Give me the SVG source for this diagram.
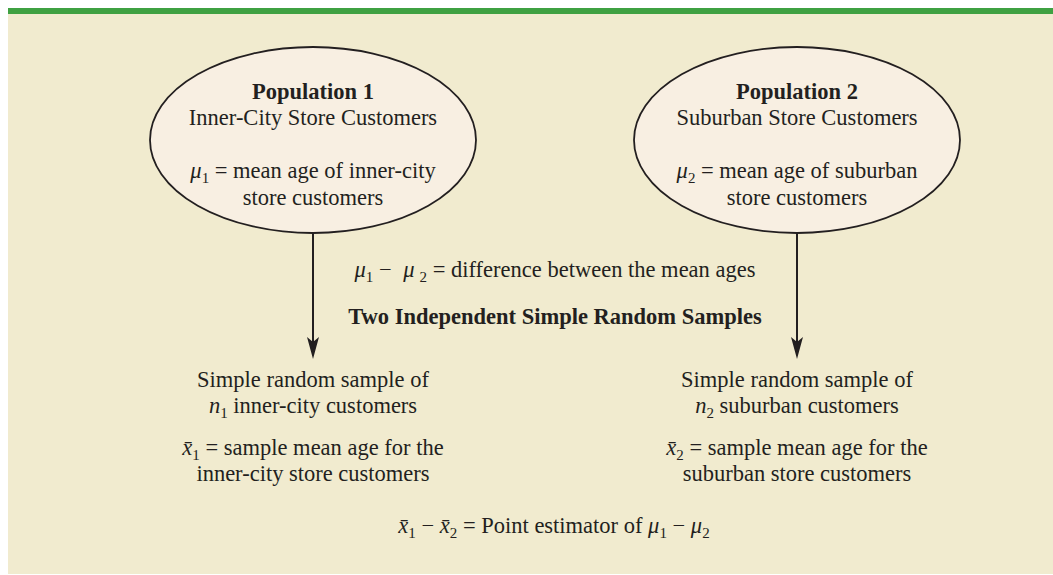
<svg xmlns="http://www.w3.org/2000/svg" width="1053" height="575" viewBox="0 0 1053 575">
<defs>
<style>
.t{font-family:"Liberation Serif","Times New Roman",serif;font-size:22.5px;fill:#231f20;text-anchor:middle}
.b{font-weight:bold}
.i{font-style:italic}
.node{fill:#f8efe2;stroke:#231f20;stroke-width:1.8}
.conn{stroke:#231f20;stroke-width:2;fill:none}
</style>
<marker id="ah" viewBox="0 0 22 12" refX="8" refY="6" markerWidth="22" markerHeight="12" markerUnits="userSpaceOnUse" orient="auto">
<path d="M0,0 L22,6 L0,12 L5,6 Z" fill="#231f20"/>
</marker>
</defs>
<rect x="0" y="0" width="1053" height="575" fill="#ffffff"/>
<rect x="8" y="8" width="1045" height="566" fill="#f1ebcf"/>
<rect x="8" y="8" width="1045" height="6" fill="#3fa142"/>

<g id="connectors">
<line class="conn" x1="313" y1="233" x2="313" y2="345" marker-end="url(#ah)"/>
<line class="conn" x1="797" y1="233" x2="797" y2="345" marker-end="url(#ah)"/>
</g>

<g id="population1">
<ellipse class="node" cx="313" cy="140" rx="163" ry="93"/>
<text class="t b" x="313" y="99">Population 1</text>
<text class="t" x="313" y="125">Inner-City Store Customers</text>
<text class="t" x="313" y="178"><tspan class="i">μ</tspan><tspan font-size="15" dy="5">1</tspan><tspan dy="-5"> = mean age of inner-city</tspan></text>
<text class="t" x="313" y="205">store customers</text>
</g>

<g id="population2">
<ellipse class="node" cx="797" cy="140" rx="163" ry="93"/>
<text class="t b" x="797" y="99">Population 2</text>
<text class="t" x="797" y="125">Suburban Store Customers</text>
<text class="t" x="797" y="178"><tspan class="i">μ</tspan><tspan font-size="15" dy="5">2</tspan><tspan dy="-5"> = mean age of suburban</tspan></text>
<text class="t" x="797" y="205">store customers</text>
</g>

<g id="middle">
<text class="t" x="555" y="277"><tspan class="i">μ</tspan><tspan font-size="15" dy="5">1</tspan><tspan dy="-5"> − </tspan><tspan class="i" dx="6">μ</tspan><tspan font-size="15" dy="5" dx="5">2</tspan><tspan dy="-5"> = difference between the mean ages</tspan></text>
<text class="t b" x="555" y="324">Two Independent Simple Random Samples</text>
</g>

<g id="sample1">
<text class="t" x="313" y="387">Simple random sample of</text>
<text class="t" x="313" y="413"><tspan class="i">n</tspan><tspan font-size="15" dy="5">1</tspan><tspan dy="-5"> inner-city customers</tspan></text>
<text class="t" x="313" y="455"><tspan class="i">x̄</tspan><tspan font-size="15" dy="5">1</tspan><tspan dy="-5"> = sample mean age for the</tspan></text>
<text class="t" x="313" y="481">inner-city store customers</text>
</g>

<g id="sample2">
<text class="t" x="797" y="387">Simple random sample of</text>
<text class="t" x="797" y="413"><tspan class="i">n</tspan><tspan font-size="15" dy="5">2</tspan><tspan dy="-5"> suburban customers</tspan></text>
<text class="t" x="797" y="455"><tspan class="i">x̄</tspan><tspan font-size="15" dy="5">2</tspan><tspan dy="-5"> = sample mean age for the</tspan></text>
<text class="t" x="797" y="481">suburban store customers</text>
</g>

<g id="estimator">
<text class="t" x="554" y="533"><tspan class="i">x̄</tspan><tspan font-size="15" dy="5">1</tspan><tspan dy="-5"> − </tspan><tspan class="i">x̄</tspan><tspan font-size="15" dy="5">2</tspan><tspan dy="-5"> = Point estimator of </tspan><tspan class="i">μ</tspan><tspan font-size="15" dy="5">1</tspan><tspan dy="-5"> − </tspan><tspan class="i">μ</tspan><tspan font-size="15" dy="5">2</tspan></text>
</g>
</svg>
